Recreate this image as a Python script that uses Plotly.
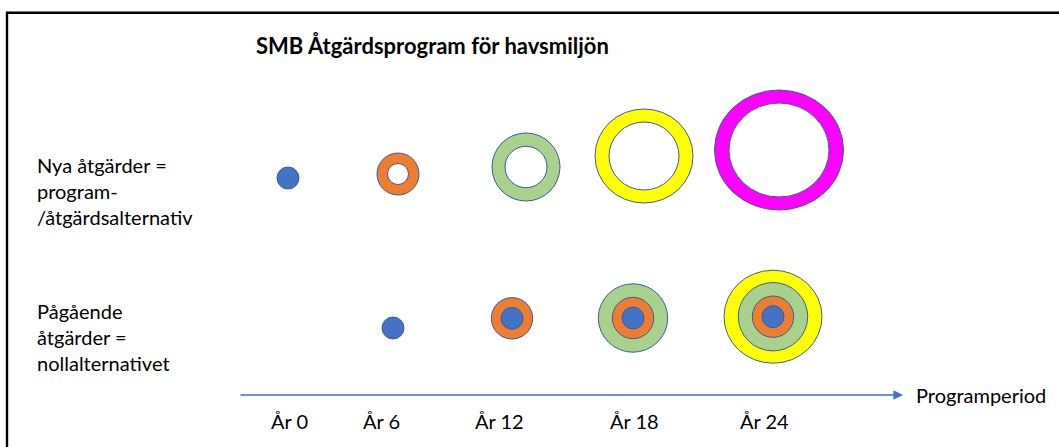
import plotly.graph_objects as go

# ---------------- data ----------------
periods = ["År 0", "År 6", "År 12", "År 18", "År 24"]
row_labels = ["Nya åtgärder =<br>program-<br>/åtgärdsalternativ",
              "Pågående<br>åtgärder =<br>nollalternativet"]
title_text = "SMB Åtgärdsprogram för havsmiljön"
axis_label = "Programperiod"

# size of the new measures ring for each period (outer / inner half-widths and half-heights)
new_outer_rx = [11, 21, 34, 49, 64.5]
new_outer_ry = [11, 21, 34, 47, 60]
new_inner_rx = [0, 10.5, 21, 35, 50]
new_inner_ry = [0, 10.5, 20.7, 34, 47]

# ongoing measures: nested circles from earlier periods (blue, orange, green, yellow)
ongoing_rx = [11, 20.7, 34.7, 49]
ongoing_ry = [11, 20.7, 34.2, 46.5]
ongoing_count = [0, 1, 2, 3, 4]

# ---------------- layout / style ----------------
W, H = 1059, 447
ring_colors = ["#4472C4", "#ED7D31", "#A9D18E", "#FFFF00", "#FF00FF"]
outline = "#3B5E9A"
FONT = "Lato"

new_cx = [288, 398, 526, 644, 779]
new_cy = [178, 174, 167, 156, 150]
ong_cx = [None, 393, 512, 633, 773]
ong_cy = [None, 328, 318.3, 318, 316.7]
label_x = [289, 381, 499, 634, 764]
label_y = 421

shapes = []

def ellipse(cx, cy, rx, ry, fill):
    shapes.append(dict(type="circle", xref="x", yref="y",
                       x0=cx - rx, x1=cx + rx, y0=cy - ry, y1=cy + ry,
                       fillcolor=fill, line=dict(color=outline, width=1), layer="above"))

# frame
shapes.append(dict(type="rect", xref="x", yref="y", x0=7, x1=1070, y0=12.7, y1=460,
                   line=dict(color="black", width=2.4), fillcolor="rgba(0,0,0,0)"))

# new measures row
for i in range(len(periods)):
    ellipse(new_cx[i], new_cy[i], new_outer_rx[i], new_outer_ry[i], ring_colors[i])
    if new_inner_rx[i] > 0:
        ellipse(new_cx[i], new_cy[i], new_inner_rx[i], new_inner_ry[i], "white")

# ongoing measures row
for i in range(len(periods)):
    n = ongoing_count[i]
    for k in reversed(range(n)):
        ellipse(ong_cx[i], ong_cy[i], ongoing_rx[k], ongoing_ry[k], ring_colors[k])

annotations = []
annotations.append(dict(x=254, y=45, xref="x", yref="y", text="<b>" + title_text + "</b>",
                        showarrow=False, xanchor="left", yanchor="middle",
                        font=dict(family=FONT, size=22, color="black")))
annotations.append(dict(x=35, y=191, xref="x", yref="y", text=row_labels[0],
                        showarrow=False, xanchor="left", yanchor="middle", align="left",
                        font=dict(family=FONT, size=20, color="black")))
annotations.append(dict(x=35, y=337, xref="x", yref="y", text=row_labels[1],
                        showarrow=False, xanchor="left", yanchor="middle", align="left",
                        font=dict(family=FONT, size=20, color="black")))
for lx, t in zip(label_x, periods):
    annotations.append(dict(x=lx, y=label_y, xref="x", yref="y", text=t, showarrow=False,
                            xanchor="center", yanchor="middle",
                            font=dict(family=FONT, size=20, color="black")))
annotations.append(dict(x=914, y=395, xref="x", yref="y", text=axis_label, showarrow=False,
                        xanchor="left", yanchor="middle",
                        font=dict(family=FONT, size=20, color="black")))
# time arrow
annotations.append(dict(x=903, y=395, ax=239, ay=395, xref="x", yref="y", axref="x", ayref="y",
                        text="", showarrow=True, arrowhead=2, arrowsize=1.2, arrowwidth=1.6,
                        arrowcolor="#4472C4"))

fig = go.Figure()
fig.add_trace(go.Scatter(x=[0, W], y=[0, H], mode="markers", marker=dict(opacity=0),
                         hoverinfo="skip", showlegend=False))
fig.update_layout(
    width=W, height=H, margin=dict(l=0, r=0, t=0, b=0),
    paper_bgcolor="white", plot_bgcolor="white",
    xaxis=dict(range=[0, W], visible=False, fixedrange=True),
    yaxis=dict(range=[H, 0], visible=False, fixedrange=True),
    shapes=shapes, annotations=annotations, showlegend=False,
)
fig.write_html("out.html", config={"displayModeBar": False},
               post_script="document.body.style.margin='0';document.body.style.overflow='hidden';")
